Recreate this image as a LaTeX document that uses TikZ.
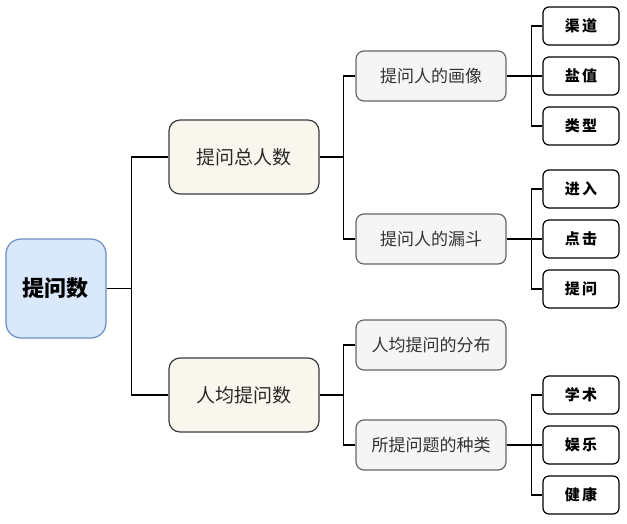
\documentclass[tikz,border=0pt]{standalone}
\usepackage{fontspec}
\newfontfamily\cjk{Noto Sans CJK SC}
\begin{document}
\begin{tikzpicture}[x=1pt,y=-1pt,
  base/.style={draw, line width=1.2pt, inner sep=0pt, align=center, font=\cjk},
  rootbox/.style={base, minimum width=100pt, minimum height=99pt, rounded corners=15pt, fill={rgb,255:red,218;green,232;blue,252}, draw={rgb,255:red,108;green,142;blue,191}, font=\cjk\fontsize{22}{26}\selectfont\bfseries},
  lvone/.style={base, minimum width=150pt, minimum height=74pt, rounded corners=11pt, fill={rgb,255:red,249;green,247;blue,237}, draw={rgb,255:red,54;green,57;blue,61}, text={rgb,255:red,40;green,40;blue,40}, font=\cjk\fontsize{19}{22}\selectfont},
  lvtwo/.style={base, minimum width=150pt, minimum height=50pt, rounded corners=8pt, fill={rgb,255:red,245;green,245;blue,245}, draw={rgb,255:red,102;green,102;blue,102}, text={rgb,255:red,51;green,51;blue,51}, font=\cjk\fontsize{17}{20}\selectfont},
  leaf/.style={base, minimum width=76pt, minimum height=38pt, rounded corners=6pt, fill=white, draw=black, font=\cjk\fontsize{15}{18}\selectfont\bfseries},
  conn/.style={line width=1.3pt, black}
]
\useasboundingbox (0,0) rectangle (627,523);
\node[rootbox] (root) at (56,288.5) {提问数};
\node[lvone] (a) at (244,157) {提问总人数};
\node[lvone] (b) at (244,395) {人均提问数};
\node[lvtwo] (a1) at (431,76) {提问人的画像};
\node[lvtwo] (a2) at (431,239) {提问人的漏斗};
\node[lvtwo] (b1) at (431,345) {人均提问的分布};
\node[lvtwo] (b2) at (431,445) {所提问题的种类};
\node[leaf] (l1) at (581,26) {渠\,道};
\node[leaf] (l2) at (581,76) {盐\,值};
\node[leaf] (l3) at (581,126) {类\,型};
\node[leaf] (l4) at (581,189) {进\,入};
\node[leaf] (l5) at (581,239) {点\,击};
\node[leaf] (l6) at (581,289) {提\,问};
\node[leaf] (l7) at (581,395) {学\,术};
\node[leaf] (l8) at (581,445) {娱\,乐};
\node[leaf] (l9) at (581,495) {健\,康};
% root bracket
\draw[conn] (root.east) -- ++(25,0) |- (a.west);
\draw[conn] (root.east) -- ++(25,0) |- (b.west);
% level1 brackets
\draw[conn] (a.east) -- ++(24,0) |- (a1.west);
\draw[conn] (a.east) -- ++(24,0) |- (a2.west);
\draw[conn] (b.east) -- ++(24,0) |- (b1.west);
\draw[conn] (b.east) -- ++(24,0) |- (b2.west);
% level2 brackets
\foreach \l in {l1,l2,l3} \draw[conn] (a1.east) -- ++(25,0) |- (\l.west);
\foreach \l in {l4,l5,l6} \draw[conn] (a2.east) -- ++(25,0) |- (\l.west);
\foreach \l in {l7,l8,l9} \draw[conn] (b2.east) -- ++(25,0) |- (\l.west);
\end{tikzpicture}
\end{document}
